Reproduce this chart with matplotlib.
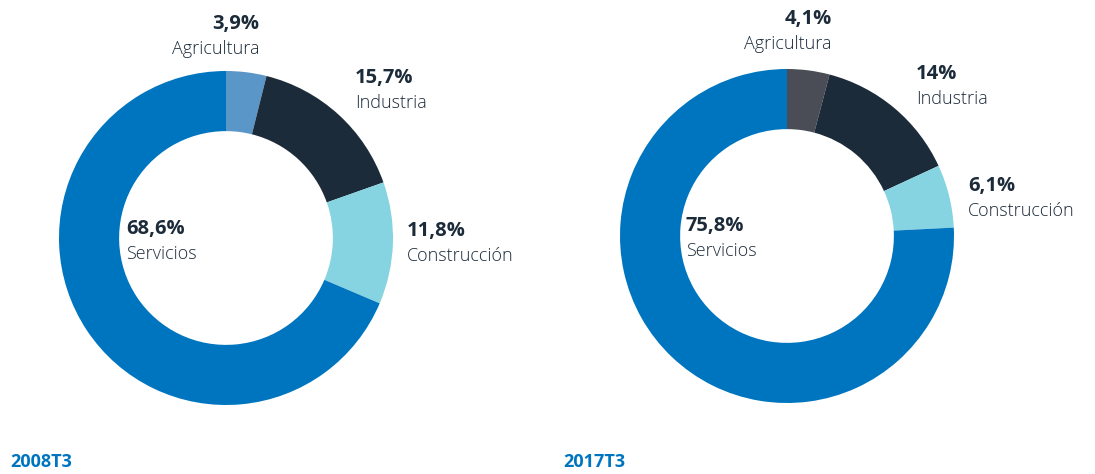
import matplotlib.pyplot as plt

sectors = ["Agricultura", "Industria", "Construcción", "Servicios"]
share_2008 = [3.9, 15.7, 11.8, 68.6]
share_2017 = [4.1, 14.0, 6.1, 75.8]
pct_2008 = ["3,9%", "15,7%", "11,8%", "68,6%"]
pct_2017 = ["4,1%", "14%", "6,1%", "75,8%"]
periods = ["2008T3", "2017T3"]

colors_2008 = ["#5B96C8", "#1C2B3A", "#86D3E2", "#0075BF"]
colors_2017 = ["#4A4D55", "#1C2B3A", "#86D3E2", "#0075BF"]
dark = "#1C2B3A"
blue = "#0075BF"

W, H = 1095, 474
plt.rcParams['font.family'] = ['Open Sans', 'DejaVu Sans']

fig = plt.figure(figsize=(W / 100, H / 100), dpi=100)
ax = fig.add_axes([0, 0, 1, 1])

def Y(y):
    return H - y

def donut(vals, cols, cx, cy, r):
    ax.pie(vals, colors=cols, startangle=90, counterclock=False,
           center=(cx, Y(cy)), radius=r, frame=True,
           wedgeprops=dict(width=r * 0.36, linewidth=0))

donut(share_2008, colors_2008, 226, 238, 167)
donut(share_2017, colors_2017, 787, 236, 167)
ax.set_xlim(0, W)
ax.set_ylim(0, H)
ax.set_aspect('equal')
ax.axis('off')

def label(x, y, pct, name, ha):
    ax.text(x, Y(y), pct, ha=ha, va='center', fontsize=14.5, fontweight='bold', color=dark)
    ax.text(x, Y(y + 25), name, ha=ha, va='center', fontsize=13, fontweight='light', color=dark)

# 2008
pos_2008 = [(259, 24, 'right'), (355, 78, 'left'), (407, 231, 'left'), (126, 229, 'left')]
for (x, y, ha), p, s in zip(pos_2008, pct_2008, sectors):
    label(x, y, p, s, ha)
# 2017
pos_2017 = [(832, 19, 'right'), (916, 74, 'left'), (968, 186, 'left'), (686, 226, 'left')]
for (x, y, ha), p, s in zip(pos_2017, pct_2017, sectors):
    label(x, y, p, s, ha)

for x, p in zip([10, 563], periods):
    ax.text(x, Y(462), p, ha='left', va='center', fontsize=13, fontweight='bold',
            color=blue, family=['Liberation Sans Narrow', 'Open Sans', 'DejaVu Sans'])

fig.savefig("out.png", dpi=100)
